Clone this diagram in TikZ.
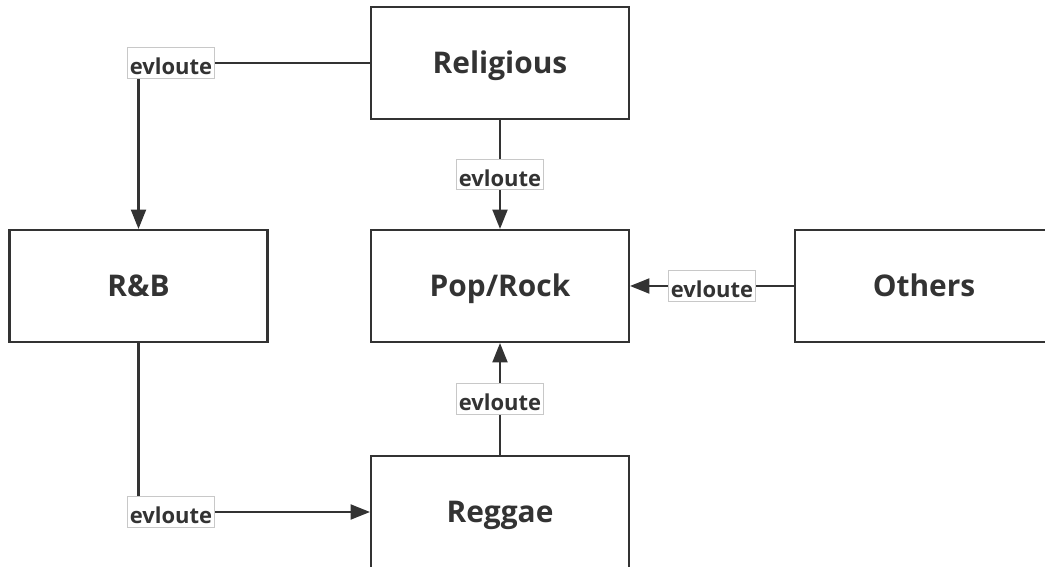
\documentclass[tikz,border=0pt]{standalone}
\usepackage{fontspec}
\setmainfont{Open Sans}
\usetikzlibrary{arrows.meta, positioning}
\definecolor{ink}{HTML}{333333}
\definecolor{tagline}{HTML}{C8C8C8}

\begin{document}
\begin{tikzpicture}[
    x=0.02cm, y=-0.02cm,
    genre/.style={draw=ink, line width=1.2pt, text=ink, font=\bfseries\fontsize{17}{20}\selectfont, minimum width=5.16cm, minimum height=2.24cm, inner sep=0pt, text height=12.1pt, text depth=0pt},
    tag/.style={draw=tagline, line width=0.4pt, fill=white, text=ink, font=\bfseries\fontsize{12.5}{14}\selectfont, inner xsep=1.2pt, inner ysep=1pt, text height=14.3pt, text depth=1pt},
    flow/.style={-{Triangle[length=11pt, width=8.5pt]}, draw=ink, line width=1.2pt}
]

\useasboundingbox (0,0) rectangle (1045,567);

\node[genre] (religious) at (500,63) {Religious};
\node[genre] (poprock) at (500,286) {Pop/Rock};
\node[genre] (rnb) at (138.5,286) {R\&B};
\node[genre] (others) at (924,286) {Others};
\node[genre] (reggae) at (500,512) {Reggae};

\draw[flow] (religious.west) -| node[tag, pos=0.43] {evloute} (rnb.north);
\draw[flow] (religious.south) -- node[tag] {evloute} (poprock.north);
\draw[flow] (others.west) -- node[tag] {evloute} (poprock.east);
\draw[flow] (reggae.north) -- node[tag] {evloute} (poprock.south);
\draw[flow] (rnb.south) |- node[tag, pos=0.57] {evloute} (reggae.west);

\end{tikzpicture}
\end{document}
